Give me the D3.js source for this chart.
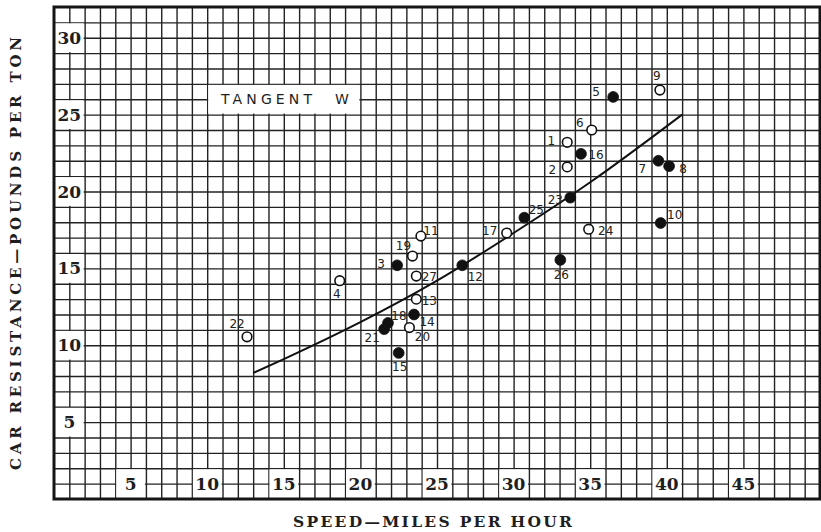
<!DOCTYPE html>
<html>
<head>
<meta charset="utf-8">
<script src="https://cdn.jsdelivr.net/npm/d3@7"></script>
<style>
  html, body { margin: 0; padding: 0; background: #fff; }
  svg { display: block; }
</style>
</head>
<body>
<svg id="chart" width="821" height="532"></svg>
<script>
// Test runs on tangent track: speed (mph) vs car resistance (lb per ton)
const runIds      = [1, 2, 3, 4, 5, 6, 7, 8, 9, 10, 11, 12, 13, 14, 15, 16, 17, 18, 19, 20, 21, 22, 23, 24, 25, 26, 27];
const speeds      = [33.5, 33.5, 22.4, 18.65, 36.5, 35.1, 39.45, 40.15, 39.55, 39.6, 23.95, 26.65, 23.65, 23.5, 22.5, 34.4, 29.55, 21.8, 23.4, 23.2, 21.55, 12.6, 33.7, 34.9, 30.7, 33.05, 23.65];
const resistances = [23.2, 21.6, 15.2, 14.2, 26.15, 24.0, 22.0, 21.65, 26.6, 17.95, 17.1, 15.2, 13.0, 12.0, 9.5, 22.45, 17.3, 11.45, 15.8, 11.15, 11.05, 10.55, 19.6, 17.55, 18.3, 15.55, 14.5];
const markerKinds = ["open", "open", "filled", "open", "filled", "open", "filled", "filled", "open", "filled", "open", "filled", "open", "filled", "filled", "filled", "open", "filled", "open", "open", "filled", "open", "filled", "open", "filled", "filled", "open"];

// Where each run number sits relative to its marker (pixels)
const labelOffsets = [[-16, -2], [-15, 3], [-16, -2], [-3, 13], [-17, -5], [-12, -7], [-16, 8], [14, 3], [-3, -14], [14, -8],
                      [10, -5], [13, 11], [13, 2], [13, 7], [1, 14], [15, 1], [-17, -2], [11, -7], [-9, -10], [13, 9],
                      [-12, 9], [-10, -13], [-15, 2], [17, 2], [12, -8], [1, 15], [13, 1]];

// Mean resistance curve
const curveSpeeds      = [13, 15, 20, 25, 30, 35, 41];
const curveResistances = [8.2, 9.1, 11.5, 14.2, 17.3, 20.6, 25.0];

const xTickValues = [5, 10, 15, 20, 25, 30, 35, 40, 45];
const yTickValues = [5, 10, 15, 20, 25, 30];
const xTitle = "SPEED\u2014MILES PER HOUR";
const yTitle = "CAR RESISTANCE\u2014POUNDS PER TON";
const noteWords = ["TANGENT", "W"];

const svg = d3.select("#chart");
const x = d3.scaleLinear().domain([0, 50]).range([54, 820]);
const y = d3.scaleLinear().domain([0, 32]).range([499, 7]);
const ink = "#1e1e1e";

// Background
svg.append("rect").attr("width", 821).attr("height", 532).attr("fill", "#fff");

// Cross-section grid, one line per unit on both axes
const gridX = svg.append("g").attr("transform", `translate(0,${y(0)})`)
  .call(d3.axisBottom(x).tickValues(d3.range(1, 50)).tickSize(-(y(0) - y(32))).tickFormat(""));
const gridY = svg.append("g").attr("transform", `translate(${x(0)},0)`)
  .call(d3.axisLeft(y).tickValues(d3.range(1, 32)).tickSize(-(x(50) - x(0))).tickFormat(""));
[gridX, gridY].forEach(g => {
  g.select(".domain").remove();
  g.selectAll(".tick line").attr("stroke", "#222").attr("stroke-width", 1.4);
});

// White panels that carry the scale figures and the note
const inset = 1;
function panel(x0, x1, y0, y1) {
  svg.append("rect")
    .attr("x", x(x0) + inset).attr("y", y(y1) + inset)
    .attr("width", x(x1) - x(x0) - 2 * inset).attr("height", y(y0) - y(y1) - 2 * inset)
    .attr("fill", "#fff");
}
xTickValues.forEach(v => panel(v - 1, v + 1, 0, 2));
yTickValues.forEach(v => panel(0, 2, v - 1, v + 1));
panel(10, 20, 25, 27);

const figFont = "'DejaVu Serif', 'Liberation Serif', serif";
svg.append("g").selectAll("text").data(xTickValues).join("text")
  .attr("x", d => x(d)).attr("y", y(1))
  .attr("dy", "0.36em").attr("text-anchor", "middle")
  .attr("font-family", figFont).attr("font-weight", "bold").attr("font-size", 17)
  .attr("fill", ink).text(d => d);
svg.append("g").selectAll("text").data(yTickValues).join("text")
  .attr("x", x(1)).attr("y", d => y(d))
  .attr("dy", "0.36em").attr("text-anchor", "middle")
  .attr("font-family", figFont).attr("font-weight", "bold").attr("font-size", 17)
  .attr("fill", ink).text(d => d);

// Note panel
const noteFont = "'DejaVu Sans', 'Liberation Sans', sans-serif";
svg.append("text").attr("x", 221).attr("y", y(26)).attr("dy", "0.36em")
  .attr("font-family", noteFont).attr("font-size", 14).attr("fill", ink)
  .attr("textLength", 91).attr("lengthAdjust", "spacing").text(noteWords[0]);
svg.append("text").attr("x", 335).attr("y", y(26)).attr("dy", "0.36em")
  .attr("font-family", noteFont).attr("font-size", 14).attr("fill", ink)
  .text(noteWords[1]);

// Outer frame
svg.append("rect")
  .attr("x", x(0)).attr("y", y(32))
  .attr("width", x(50) - x(0)).attr("height", y(0) - y(32))
  .attr("fill", "none").attr("stroke", "#151515").attr("stroke-width", 3);

// Mean curve
const curvePts = curveSpeeds.map((s, i) => [s, curveResistances[i]]);
svg.append("path")
  .attr("d", d3.line().x(d => x(d[0])).y(d => y(d[1])).curve(d3.curveMonotoneX)(curvePts))
  .attr("fill", "none").attr("stroke", "#111").attr("stroke-width", 2);

// Run markers
const runs = runIds.map((id, i) => ({
  id, speed: speeds[i], resistance: resistances[i], kind: markerKinds[i],
  dx: labelOffsets[i][0], dy: labelOffsets[i][1]
}));
svg.append("g").selectAll("circle").data(runs).join("circle")
  .attr("cx", d => x(d.speed)).attr("cy", d => y(d.resistance))
  .attr("r", d => d.kind === "filled" ? 5.4 : 4.8)
  .attr("fill", d => d.kind === "filled" ? "#111" : "#fff")
  .attr("stroke", "#111").attr("stroke-width", d => d.kind === "filled" ? 0.8 : 1.6);

svg.append("g").selectAll("text").data(runs).join("text")
  .attr("x", d => x(d.speed) + d.dx).attr("y", d => y(d.resistance) + d.dy)
  .attr("dy", "0.36em").attr("text-anchor", "middle")
  .attr("font-family", noteFont).attr("font-size", 12).attr("fill", "#222")
  .text(d => d.id);

// Axis titles
const titleFont = "'DejaVu Serif', 'Liberation Serif', serif";
svg.append("text")
  .attr("x", 293).attr("y", 527)
  .attr("font-family", titleFont).attr("font-weight", "bold").attr("font-size", 15.5)
  .attr("fill", ink).attr("textLength", 279).attr("lengthAdjust", "spacing")
  .text(xTitle);
svg.append("text")
  .attr("transform", `translate(21,470) rotate(-90)`)
  .attr("font-family", titleFont).attr("font-weight", "bold").attr("font-size", 15)
  .attr("fill", ink).attr("textLength", 433).attr("lengthAdjust", "spacing")
  .text(yTitle);
</script>
</body>
</html>
